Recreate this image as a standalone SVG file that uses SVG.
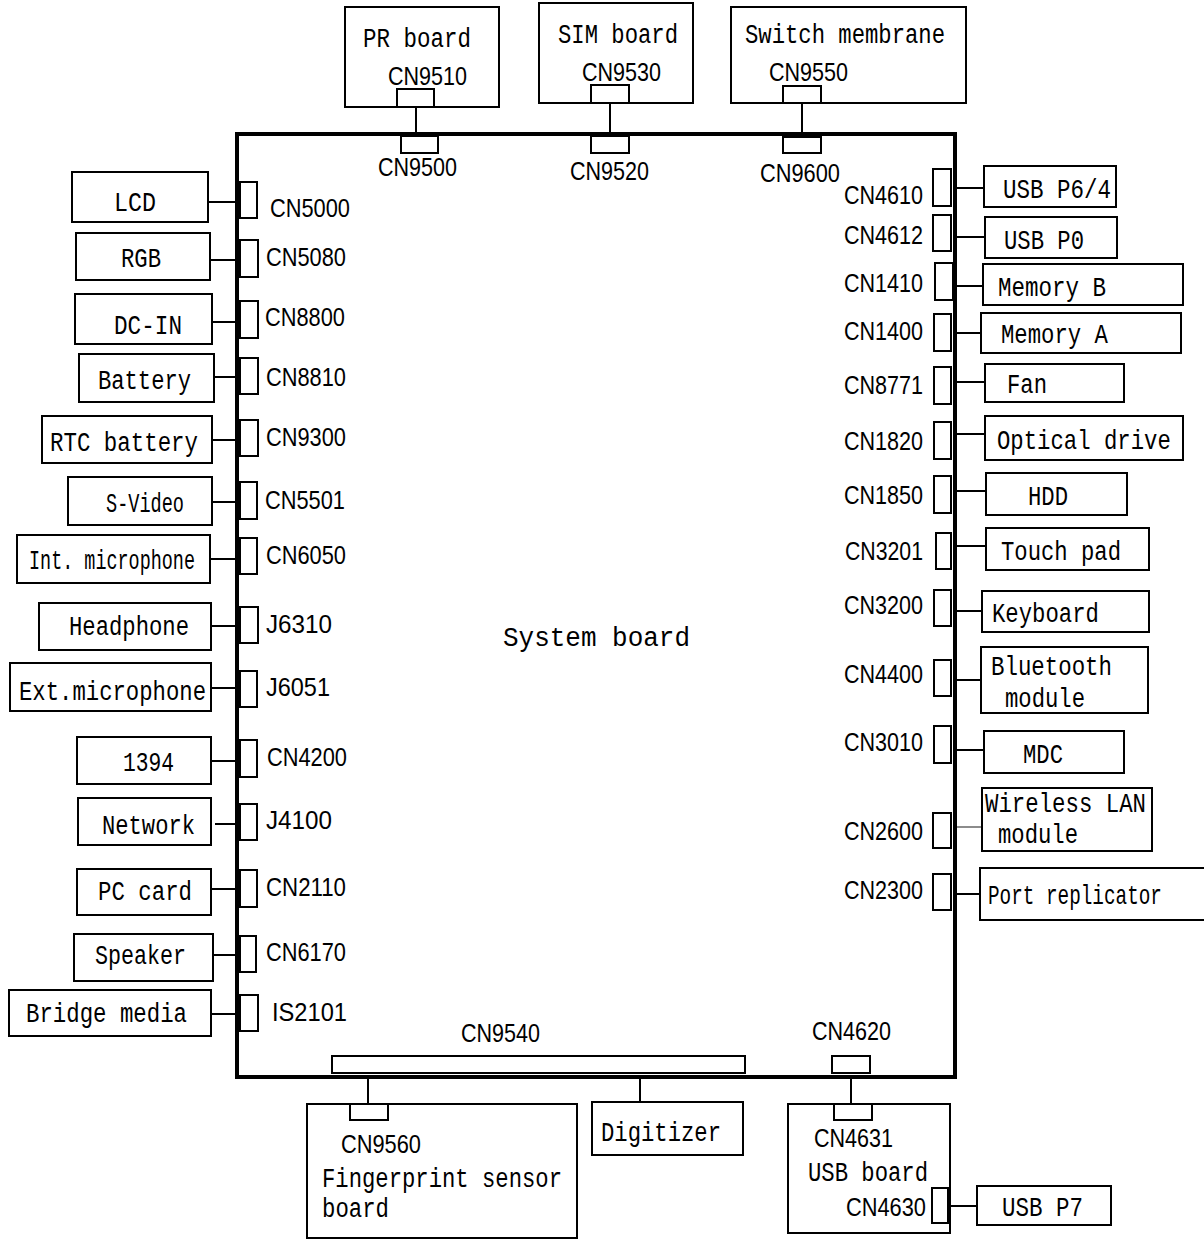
<svg xmlns="http://www.w3.org/2000/svg" width="1204" height="1239" viewBox="0 0 1204 1239">
<style>
.bx{fill:#fff;stroke:#000;stroke-width:2}
.cn{fill:#fff;stroke:#000;stroke-width:2}
.ln{stroke:#000;stroke-width:2;fill:none}
.t{font-family:"Liberation Mono","DejaVu Sans Mono",monospace;font-size:27px;fill:#000}
.c{font-family:"Liberation Sans",Arial,sans-serif;font-size:25px;fill:#000}
</style>
<rect width="1204" height="1239" fill="#fff"/>
<g id="connectors">
<line class="ln" x1="416" y1="107" x2="416" y2="134"/>
<line class="ln" x1="610" y1="103" x2="610" y2="134"/>
<line class="ln" x1="802" y1="103" x2="802" y2="134"/>
<line class="ln" x1="208" y1="202" x2="237" y2="202"/>
<line class="ln" x1="210" y1="260" x2="237" y2="260"/>
<line class="ln" x1="212" y1="322" x2="237" y2="322"/>
<line class="ln" x1="214" y1="377" x2="237" y2="377"/>
<line class="ln" x1="212" y1="440" x2="237" y2="440"/>
<line class="ln" x1="212" y1="502" x2="237" y2="502"/>
<line class="ln" x1="210" y1="559" x2="237" y2="559"/>
<line class="ln" x1="211" y1="626" x2="237" y2="626"/>
<line class="ln" x1="211" y1="688" x2="237" y2="688"/>
<line class="ln" x1="211" y1="761" x2="237" y2="761"/>
<line class="ln" x1="215" y1="824" x2="237" y2="824"/>
<line class="ln" x1="211" y1="889" x2="237" y2="889"/>
<line class="ln" x1="213" y1="955" x2="237" y2="955"/>
<line class="ln" x1="211" y1="1014" x2="237" y2="1014"/>
<line class="ln" x1="955" y1="188" x2="984" y2="188"/>
<line class="ln" x1="955" y1="237" x2="985" y2="237"/>
<line class="ln" x1="955" y1="286" x2="983" y2="286"/>
<line class="ln" x1="955" y1="333" x2="981" y2="333"/>
<line class="ln" x1="955" y1="382" x2="985" y2="382"/>
<line class="ln" x1="955" y1="434" x2="985" y2="434"/>
<line class="ln" x1="955" y1="491" x2="986" y2="491"/>
<line class="ln" x1="955" y1="546" x2="986" y2="546"/>
<line class="ln" x1="955" y1="611" x2="982" y2="611"/>
<line class="ln" x1="955" y1="680" x2="981" y2="680"/>
<line class="ln" x1="955" y1="750" x2="984" y2="750"/>
<line x1="955" y1="827" x2="982" y2="827" stroke="#666" stroke-width="1.5"/>
<line class="ln" x1="955" y1="894" x2="980" y2="894"/>
<line class="ln" x1="368" y1="1077" x2="368" y2="1104"/>
<line class="ln" x1="640" y1="1077" x2="640" y2="1102"/>
<line class="ln" x1="851" y1="1077" x2="851" y2="1104"/>
<line class="ln" x1="950" y1="1206" x2="977" y2="1206"/>
</g>
<g id="system-board">
<rect x="237" y="134" width="718" height="943" fill="none" stroke="#000" stroke-width="4"/>
<text class="t" x="503" y="646" font-size="30" textLength="187" lengthAdjust="spacingAndGlyphs">System board</text>
<rect class="cn" x="401" y="136" width="37" height="17"/><text class="c" x="378" y="176" textLength="79" lengthAdjust="spacingAndGlyphs">CN9500</text>
<rect class="cn" x="591" y="136" width="38" height="17"/><text class="c" x="570" y="180" textLength="79" lengthAdjust="spacingAndGlyphs">CN9520</text>
<rect class="cn" x="783" y="137" width="38" height="16"/><text class="c" x="760" y="182" textLength="80" lengthAdjust="spacingAndGlyphs">CN9600</text>
<rect class="cn" x="240" y="182" width="17" height="36"/><text class="c" x="270" y="217" textLength="80" lengthAdjust="spacingAndGlyphs">CN5000</text>
<rect class="cn" x="240" y="240" width="18" height="37"/><text class="c" x="266" y="266" textLength="80" lengthAdjust="spacingAndGlyphs">CN5080</text>
<rect class="cn" x="240" y="301" width="18" height="37"/><text class="c" x="265" y="326" textLength="80" lengthAdjust="spacingAndGlyphs">CN8800</text>
<rect class="cn" x="240" y="358" width="18" height="36"/><text class="c" x="266" y="386" textLength="80" lengthAdjust="spacingAndGlyphs">CN8810</text>
<rect class="cn" x="240" y="420" width="18" height="36"/><text class="c" x="266" y="446" textLength="80" lengthAdjust="spacingAndGlyphs">CN9300</text>
<rect class="cn" x="240" y="482" width="17" height="37"/><text class="c" x="265" y="509" textLength="80" lengthAdjust="spacingAndGlyphs">CN5501</text>
<rect class="cn" x="240" y="538" width="17" height="36"/><text class="c" x="266" y="564" textLength="80" lengthAdjust="spacingAndGlyphs">CN6050</text>
<rect class="cn" x="240" y="607" width="18" height="36"/><text class="c" x="266" y="633" textLength="66" lengthAdjust="spacingAndGlyphs">J6310</text>
<rect class="cn" x="240" y="671" width="17" height="36"/><text class="c" x="266" y="696" textLength="64" lengthAdjust="spacingAndGlyphs">J6051</text>
<rect class="cn" x="240" y="740" width="17" height="37"/><text class="c" x="267" y="766" textLength="80" lengthAdjust="spacingAndGlyphs">CN4200</text>
<rect class="cn" x="240" y="804" width="17" height="36"/><text class="c" x="266" y="829" textLength="66" lengthAdjust="spacingAndGlyphs">J4100</text>
<rect class="cn" x="240" y="870" width="17" height="37"/><text class="c" x="266" y="896" textLength="80" lengthAdjust="spacingAndGlyphs">CN2110</text>
<rect class="cn" x="240" y="936" width="16" height="36"/><text class="c" x="266" y="961" textLength="80" lengthAdjust="spacingAndGlyphs">CN6170</text>
<rect class="cn" x="240" y="995" width="18" height="36"/><text class="c" x="272" y="1021" textLength="75" lengthAdjust="spacingAndGlyphs">IS2101</text>
<rect class="cn" x="933" y="169" width="18" height="37"/><text class="c" x="844" y="204" textLength="79" lengthAdjust="spacingAndGlyphs">CN4610</text>
<rect class="cn" x="933" y="215" width="18" height="36"/><text class="c" x="844" y="244" textLength="79" lengthAdjust="spacingAndGlyphs">CN4612</text>
<rect class="cn" x="935" y="263" width="18" height="37"/><text class="c" x="844" y="292" textLength="79" lengthAdjust="spacingAndGlyphs">CN1410</text>
<rect class="cn" x="934" y="314" width="17" height="37"/><text class="c" x="844" y="340" textLength="79" lengthAdjust="spacingAndGlyphs">CN1400</text>
<rect class="cn" x="934" y="367" width="17" height="37"/><text class="c" x="844" y="394" textLength="79" lengthAdjust="spacingAndGlyphs">CN8771</text>
<rect class="cn" x="934" y="422" width="17" height="37"/><text class="c" x="844" y="450" textLength="79" lengthAdjust="spacingAndGlyphs">CN1820</text>
<rect class="cn" x="934" y="476" width="17" height="37"/><text class="c" x="844" y="504" textLength="79" lengthAdjust="spacingAndGlyphs">CN1850</text>
<rect class="cn" x="936" y="533" width="15" height="36"/><text class="c" x="845" y="560" textLength="78" lengthAdjust="spacingAndGlyphs">CN3201</text>
<rect class="cn" x="934" y="590" width="17" height="36"/><text class="c" x="844" y="614" textLength="79" lengthAdjust="spacingAndGlyphs">CN3200</text>
<rect class="cn" x="934" y="660" width="17" height="36"/><text class="c" x="844" y="683" textLength="79" lengthAdjust="spacingAndGlyphs">CN4400</text>
<rect class="cn" x="934" y="726" width="17" height="37"/><text class="c" x="844" y="751" textLength="79" lengthAdjust="spacingAndGlyphs">CN3010</text>
<rect class="cn" x="933" y="813" width="18" height="35"/><text class="c" x="844" y="840" textLength="79" lengthAdjust="spacingAndGlyphs">CN2600</text>
<rect class="cn" x="933" y="874" width="18" height="36"/><text class="c" x="844" y="899" textLength="79" lengthAdjust="spacingAndGlyphs">CN2300</text>
<rect class="cn" x="332" y="1056" width="413" height="17"/><text class="c" x="461" y="1042" textLength="79" lengthAdjust="spacingAndGlyphs">CN9540</text>
<rect class="cn" x="832" y="1056" width="38" height="17"/><text class="c" x="812" y="1040" textLength="79" lengthAdjust="spacingAndGlyphs">CN4620</text>
</g>
<g id="pr-board">
<rect class="bx" x="345" y="7" width="154" height="100"/>
<text class="t" x="363" y="47" textLength="108" lengthAdjust="spacingAndGlyphs">PR board</text>
<text class="c" x="388" y="85" textLength="79" lengthAdjust="spacingAndGlyphs">CN9510</text>
<rect class="cn" x="397" y="89" width="37" height="18"/>
</g>
<g id="sim-board">
<rect class="bx" x="539" y="3" width="154" height="100"/>
<text class="t" x="558" y="43" textLength="120" lengthAdjust="spacingAndGlyphs">SIM board</text>
<text class="c" x="582" y="81" textLength="79" lengthAdjust="spacingAndGlyphs">CN9530</text>
<rect class="cn" x="591" y="85" width="38" height="18"/>
</g>
<g id="switch-membrane">
<rect class="bx" x="731" y="7" width="235" height="96"/>
<text class="t" x="745" y="43" textLength="200" lengthAdjust="spacingAndGlyphs">Switch membrane</text>
<text class="c" x="769" y="81" textLength="79" lengthAdjust="spacingAndGlyphs">CN9550</text>
<rect class="cn" x="783" y="86" width="38" height="17"/>
</g>
<g id="lcd"><rect class="bx" x="72" y="172" width="136" height="50"/><text class="t" x="114" y="211" textLength="42" lengthAdjust="spacingAndGlyphs">LCD</text></g>
<g id="rgb"><rect class="bx" x="76" y="233" width="134" height="47"/><text class="t" x="121" y="267" textLength="40" lengthAdjust="spacingAndGlyphs">RGB</text></g>
<g id="dc-in"><rect class="bx" x="75" y="294" width="137" height="50"/><text class="t" x="114" y="334" textLength="68" lengthAdjust="spacingAndGlyphs">DC-IN</text></g>
<g id="battery"><rect class="bx" x="79" y="354" width="135" height="48"/><text class="t" x="98" y="389" textLength="93" lengthAdjust="spacingAndGlyphs">Battery</text></g>
<g id="rtc-battery"><rect class="bx" x="42" y="416" width="170" height="47"/><text class="t" x="50" y="451" textLength="148" lengthAdjust="spacingAndGlyphs">RTC battery</text></g>
<g id="s-video"><rect class="bx" x="68" y="477" width="144" height="48"/><text class="t" x="106" y="512" textLength="78" lengthAdjust="spacingAndGlyphs">S-Video</text></g>
<g id="int-microphone"><rect class="bx" x="17" y="535" width="193" height="48"/><text class="t" x="29" y="569" textLength="166" lengthAdjust="spacingAndGlyphs">Int. microphone</text></g>
<g id="headphone"><rect class="bx" x="39" y="603" width="172" height="47"/><text class="t" x="69" y="635" textLength="120" lengthAdjust="spacingAndGlyphs">Headphone</text></g>
<g id="ext-microphone"><rect class="bx" x="10" y="663" width="201" height="48"/><text class="t" x="19" y="700" textLength="187" lengthAdjust="spacingAndGlyphs">Ext.microphone</text></g>
<g id="n1394"><rect class="bx" x="77" y="737" width="134" height="47"/><text class="t" x="123" y="771" textLength="51" lengthAdjust="spacingAndGlyphs">1394</text></g>
<g id="network"><rect class="bx" x="78" y="798" width="133" height="47"/><text class="t" x="102" y="834" textLength="93" lengthAdjust="spacingAndGlyphs">Network</text></g>
<g id="pc-card"><rect class="bx" x="77" y="869" width="134" height="46"/><text class="t" x="98" y="900" textLength="94" lengthAdjust="spacingAndGlyphs">PC card</text></g>
<g id="speaker"><rect class="bx" x="74" y="934" width="139" height="47"/><text class="t" x="95" y="964" textLength="91" lengthAdjust="spacingAndGlyphs">Speaker</text></g>
<g id="bridge-media"><rect class="bx" x="9" y="990" width="202" height="46"/><text class="t" x="26" y="1022" textLength="161" lengthAdjust="spacingAndGlyphs">Bridge media</text></g>
<g id="usb-p64"><rect class="bx" x="984" y="166" width="132" height="41"/><text class="t" x="1003" y="198" textLength="108" lengthAdjust="spacingAndGlyphs">USB P6/4</text></g>
<g id="usb-p0"><rect class="bx" x="985" y="217" width="132" height="41"/><text class="t" x="1004" y="249" textLength="80" lengthAdjust="spacingAndGlyphs">USB P0</text></g>
<g id="memory-b"><rect class="bx" x="983" y="264" width="200" height="41"/><text class="t" x="998" y="296" textLength="108" lengthAdjust="spacingAndGlyphs">Memory B</text></g>
<g id="memory-a"><rect class="bx" x="981" y="313" width="200" height="40"/><text class="t" x="1001" y="343" textLength="107" lengthAdjust="spacingAndGlyphs">Memory A</text></g>
<g id="fan"><rect class="bx" x="985" y="364" width="139" height="38"/><text class="t" x="1007" y="393" textLength="40" lengthAdjust="spacingAndGlyphs">Fan</text></g>
<g id="optical-drive"><rect class="bx" x="985" y="416" width="198" height="44"/><text class="t" transform="translate(997,449) scale(0.825,1)" x="0" y="0">Optical drive</text></g>
<g id="hdd"><rect class="bx" x="986" y="473" width="141" height="42"/><text class="t" x="1028" y="505" textLength="40" lengthAdjust="spacingAndGlyphs">HDD</text></g>
<g id="touch-pad"><rect class="bx" x="986" y="528" width="163" height="42"/><text class="t" x="1001" y="560" textLength="120" lengthAdjust="spacingAndGlyphs">Touch pad</text></g>
<g id="keyboard"><rect class="bx" x="982" y="591" width="167" height="41"/><text class="t" x="992" y="622" textLength="107" lengthAdjust="spacingAndGlyphs">Keyboard</text></g>
<g id="bluetooth"><rect class="bx" x="981" y="647" width="167" height="66"/><text class="t" x="991" y="675" textLength="121" lengthAdjust="spacingAndGlyphs">Bluetooth</text><text class="t" x="1005" y="707" textLength="80" lengthAdjust="spacingAndGlyphs">module</text></g>
<g id="mdc"><rect class="bx" x="984" y="731" width="140" height="42"/><text class="t" x="1023" y="763" textLength="40" lengthAdjust="spacingAndGlyphs">MDC</text></g>
<g id="wireless-lan"><rect class="bx" x="982" y="788" width="170" height="63"/><text class="t" x="985" y="812" textLength="161" lengthAdjust="spacingAndGlyphs">Wireless LAN</text><text class="t" x="998" y="843" textLength="80" lengthAdjust="spacingAndGlyphs">module</text></g>
<g id="port-replicator"><path class="bx" d="M1204 868 H980 V920 H1204"/><text class="t" transform="translate(988,904) scale(0.716,1)" x="0" y="0">Port replicator</text></g>
<g id="fingerprint"><rect class="bx" x="307" y="1104" width="270" height="134"/><rect class="cn" x="350" y="1104" width="38" height="16"/><text class="c" x="341" y="1153" textLength="80" lengthAdjust="spacingAndGlyphs">CN9560</text><text class="t" x="322" y="1187" textLength="240" lengthAdjust="spacingAndGlyphs">Fingerprint sensor</text><text class="t" x="322" y="1217" textLength="67" lengthAdjust="spacingAndGlyphs">board</text></g>
<g id="digitizer"><rect class="bx" x="592" y="1102" width="151" height="53"/><text class="t" x="601" y="1141" textLength="120" lengthAdjust="spacingAndGlyphs">Digitizer</text></g>
<g id="usb-board"><rect class="bx" x="788" y="1104" width="162" height="129"/><rect class="cn" x="834" y="1104" width="38" height="16"/><text class="c" x="814" y="1147" textLength="79" lengthAdjust="spacingAndGlyphs">CN4631</text><text class="t" x="808" y="1181" textLength="120" lengthAdjust="spacingAndGlyphs">USB board</text><text class="c" x="846" y="1216" textLength="80" lengthAdjust="spacingAndGlyphs">CN4630</text><rect class="cn" x="932" y="1188" width="16" height="35"/></g>
<g id="usb-p7"><rect class="bx" x="977" y="1186" width="134" height="39"/><text class="t" x="1002" y="1216" textLength="81" lengthAdjust="spacingAndGlyphs">USB P7</text></g>
</svg>
